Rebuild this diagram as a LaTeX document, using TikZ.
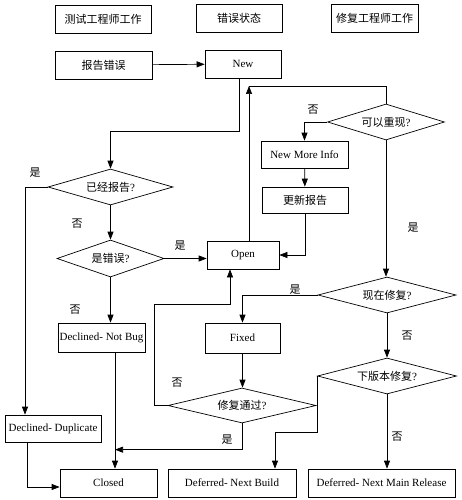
\documentclass[tikz,border=0pt]{standalone}
\usepackage{fontspec}
\setmainfont{Liberation Serif}
\newfontfamily\cjk{Noto Sans CJK SC}
\usetikzlibrary{arrows.meta,shapes.geometric}
\begin{document}
\begin{tikzpicture}
  [x=1pt,y=-1pt,line width=0.7pt,>={Triangle[length=8pt,width=6pt]},
   every node/.style={font=\fontsize{11}{13}\selectfont,inner sep=0pt},
   box/.style={draw,minimum height=28pt},
   ask/.style={draw,diamond,aspect=3,minimum height=36pt}]
    \useasboundingbox (0,0) rectangle (461,500);

    \node (hdtest) [box,minimum width=96pt] at (103,19)   {\cjk 测试工程师工作};
    \node (hdstate)[box,minimum width=86pt] at (239,18)   {\cjk 错误状态};
    \node (hdfix)  [box,minimum width=87pt] at (374.5,18) {\cjk 修复工程师工作};

    \node (rpt)    [box,minimum width=97pt] at (103.5,65) {\cjk 报告错误};
    \node (new)    [box,minimum width=76pt] at (243,64)   {New};
    \node (repro)  [ask,minimum width=117pt] at (386,122) {{\cjk 可以重现}?};
    \node (info)   [box,minimum width=87pt,minimum height=27pt] at (304.5,154.5) {New More Info};
    \node (upd)    [box,minimum width=86pt,minimum height=26pt] at (305,200) {\cjk 更新报告};
    \node (open)   [box,minimum width=72pt] at (243,255)  {Open};
    \node (dupq)   [ask,minimum width=125pt] at (110.5,187) {{\cjk 已经报告}?};
    \node (bugq)   [ask,minimum width=107pt,minimum height=37pt] at (110.5,258.5) {{\cjk 是错误}?};
    \node (nowq)   [ask,minimum width=138pt] at (387,295) {{\cjk 现在修复}?};
    \node (notbug) [box,minimum width=87pt,minimum height=29pt] at (101.5,337.5) {Declined- Not Bug};
    \node (fixed)  [box,minimum width=75pt,minimum height=30pt] at (242.5,338) {Fixed};
    \node (passq)  [ask,minimum width=148pt,minimum height=35pt] at (242,405.5) {{\cjk 修复通过}?};
    \node (nextq)  [ask,minimum width=139pt] at (387,376) {{\cjk 下版本修复}?};
    \node (dup)    [box,minimum width=96pt,minimum height=27pt] at (53,428.5) {Declined- Duplicate};
    \node (closed) [box,minimum width=97pt] at (108.5,483) {Closed};
    \node (build)  [box,minimum width=128pt] at (232,483) {Deferred- Next Build};
    \node (main)   [box,minimum width=147pt] at (381.5,483) {Deferred- Next Main Release};
    \coordinate (loop) at (249,86);

    \draw[->] (rpt) -- (new);
    \draw[->] ([xshift=-4pt]new.south) |- ([yshift=37pt]dupq.north) -- (dupq.north);
    \draw[->] ([xshift=6pt]open.north) -- (loop);
    \draw (loop) -| (repro.north);
    \draw[->] (repro.west) -| (info.north);
    \draw[->] (info) -- (upd);
    \draw[->] (upd.south) |- (open.east);
    \draw[->] (dupq.west) -| ([xshift=-28pt]dup.north);
    \draw[->] (dupq) -- (bugq);
    \draw[->] (bugq.east) -- (bugq.east -| open.west);
    \draw[->] (bugq.south) -- (bugq.south |- notbug.north);
    \draw[->] (repro.south) -- (repro.south |- nowq.north);
    \draw[->] (nowq.west) -| (fixed.north);
    \draw[->] (fixed.south) -- (fixed.south |- passq.north);
    \draw[->] (passq.west) -- ++(-13,0) |- ([xshift=-13pt,yshift=-35pt]open.south) -- ([xshift=-13pt]open.south);
    \draw[->] ([xshift=13.5pt]notbug.south) -- ([xshift=6.5pt]closed.north);
    \draw[->] (passq.south) |- ([xshift=6.5pt,yshift=19pt]closed.north);
    \draw[->] ([xshift=-26pt]dup.south) |- ([yshift=-4pt]closed.west);
    \draw[->] (nowq) -- (nextq);
    \draw[->] (nextq.west) |- ([xshift=43pt,yshift=36pt]build.north) -- ([xshift=43pt]build.north);
    \draw[->] (nextq.south) -- (nextq.south |- main.north);

    \node (n1) at (313,110) {\cjk 否};
    \node (y1) at (35,173)  {\cjk 是};
    \node (n2) at (77,224)  {\cjk 否};
    \node (y2) at (180,246) {\cjk 是};
    \node (n3) at (75,310)  {\cjk 否};
    \node (y3) at (413,228) {\cjk 是};
    \node (y4) at (295,290) {\cjk 是};
    \node (n4) at (407,336) {\cjk 否};
    \node (n5) at (177,383) {\cjk 否};
    \node (y5) at (227,440) {\cjk 是};
    \node (n6) at (397,437) {\cjk 否};
  \end{tikzpicture}
\end{document}
